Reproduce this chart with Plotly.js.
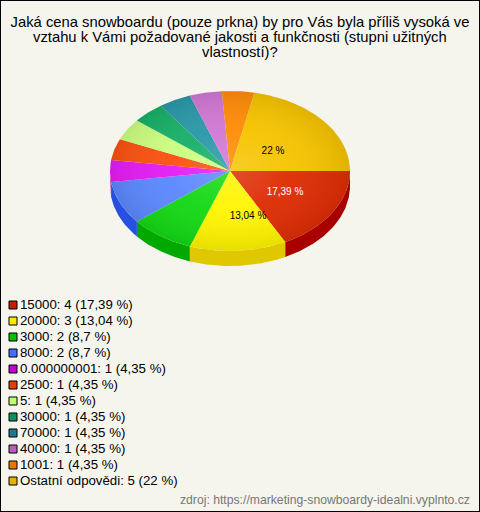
<!DOCTYPE html>
<html><head><meta charset="utf-8">
<script src="https://cdn.plot.ly/plotly-3.0.1.min.js"></script>
<style>html,body{margin:0;padding:0;background:#f5f5ee}</style></head>
<body><div id="chart" style="width:480px;height:512px"></div>
<script>
const categories = ['15000','20000','3000','8000','0.000000001','2500','5','30000','70000','40000','1001','Ostatní odpovědi'];
const counts = [4,3,2,2,1,1,1,1,1,1,1,5];
const percents = ['17,39','13,04','8,7','8,7','4,35','4,35','4,35','4,35','4,35','4,35','4,35','22'];
const topColors = ['#de2c04','#fff400','#14d814','#5c88ff','#e41cf4','#fb5210','#ccff80','#18b068','#2a98a8','#d078d4','#ff8c08','#f6c400'];
const wallColors = ['#a80000','#e0c800','#00a800','#2850e0','#a000a8','#a83000','#90c060','#088048','#106878','#905090','#c06000','#b89000'];
const swatchColors = ['#c02000','#ffe800','#00c000','#4070ff','#c000d0','#e04000','#c0ff70','#109060','#207890','#b860b8','#e87800','#e8b000'];
const titleLines = ['Jaká cena snowboardu (pouze prkna) by pro Vás byla příliš vysoká ve','vztahu k Vámi požadované jakosti a funkčnosti (stupni užitných','vlastností)?'];
const source = 'zdroj: https://marketing-snowboardy-idealni.vyplnto.cz';
const labelled = ['22 %','17,39 %','13,04 %'];
const labelColors = ['#000000','#ffffff','#000000'];
const cx=230, cy=171, rx=120, ry=80, depth=15;
const font='"Liberation Sans", Arial, sans-serif';
const total = counts.reduce((a,b)=>a+b,0);
const traces=[];
function arc(a0,a1,dy){const n=Math.max(2,Math.ceil((a1-a0)*90));const xs=[],ys=[];
  for(let i=0;i<=n;i++){const t=a0+(a1-a0)*i/n;xs.push(cx+rx*Math.cos(t));ys.push(cy+dy+ry*Math.sin(t));}
  return [xs,ys];}
let acc=0;const spans=counts.map(v=>{const a0=acc/total*2*Math.PI;acc+=v;return [a0,acc/total*2*Math.PI];});
spans.forEach(([a0,a1],i)=>{
  if(a0<Math.PI){const e=Math.min(a1,Math.PI);const [x,y]=arc(a0,e,0);const [x2,y2]=arc(a0,e,depth);
    traces.push({type:'scatter',mode:'lines',x:x.concat(x2.reverse()),y:y.concat(y2.reverse()),fill:'toself',fillcolor:wallColors[i],line:{width:0},hoverinfo:'skip',showlegend:false});}
});
spans.forEach(([a0,a1],i)=>{
  const [x,y]=arc(a0,a1,0);
  traces.push({type:'scatter',mode:'lines',x:[cx].concat(x,[cx]),y:[cy].concat(y,[cy]),fill:'toself',fillcolor:topColors[i],line:{width:0},name:categories[i],showlegend:false});
});
const [ex,ey]=arc(0,2*Math.PI,0);
traces.push({type:'scatter',mode:'lines',x:ex,y:ey,fill:'toself',line:{width:0},hoverinfo:'skip',showlegend:false,
  fillgradient:{type:'radial',colorscale:[[0,'rgba(255,255,255,0.16)'],[0.5,'rgba(255,255,255,0.04)'],[1,'rgba(0,0,0,0.09)']]}});
const labelX=[273,285,248], labelY=[151,192,216];
traces.push({type:'scatter',mode:'text',x:labelX,y:labelY,text:labelled,textposition:'middle center',textfont:{family:font,size:10,color:labelColors},hoverinfo:'skip',showlegend:false});
const legendText=categories.map((c,i)=>`${c}: ${counts[i]} (${percents[i]} %)`);
const legendY=categories.map((c,i)=>305+i*16);
traces.push({type:'scatter',mode:'markers',x:categories.map(()=>13),y:legendY,marker:{symbol:'square',size:8,color:swatchColors,line:{color:'#000',width:1}},hoverinfo:'skip',showlegend:false,cliponaxis:false});
traces.push({type:'scatter',mode:'text',x:categories.map(()=>20),y:legendY.map(v=>v+0.5),text:legendText,textposition:'middle right',
  textfont:{family:font,size:13.25,color:'#000'},hoverinfo:'skip',showlegend:false,cliponaxis:false});
const tSize=14.8;
const layout={width:480,height:512,margin:{l:0,r:0,t:0,b:0},paper_bgcolor:'#f5f5ee',plot_bgcolor:'#f5f5ee',showlegend:false,
  title:{text:titleLines[0],font:{family:font,size:tSize,color:'#000'},x:0.5,xanchor:'center',y:1-22/512,yanchor:'middle',pad:{t:0}},
  xaxis:{range:[0,480],visible:false,fixedrange:true},yaxis:{range:[512,0],visible:false,fixedrange:true},
  annotations:[
    {xref:'paper',yref:'paper',x:0.5,xanchor:'center',y:1-37/512,yanchor:'middle',text:titleLines[1],showarrow:false,font:{family:font,size:tSize,color:'#000'}},
    {xref:'paper',yref:'paper',x:0.5,xanchor:'center',y:1-52/512,yanchor:'middle',text:titleLines[2],showarrow:false,font:{family:font,size:tSize,color:'#000'}},
    {xref:'paper',yref:'paper',x:1,xanchor:'right',xshift:-8,y:0,yanchor:'bottom',yshift:3,text:source,showarrow:false,font:{family:font,size:12.2,color:'#777'}}],
  shapes:[{type:'rect',xref:'paper',yref:'paper',x0:0,x1:1,y0:0,y1:1,line:{color:'#000',width:2},fillcolor:'rgba(0,0,0,0)'}]};
Plotly.newPlot('chart',traces,layout,{displayModeBar:false,staticPlot:true});
</script></body></html>
